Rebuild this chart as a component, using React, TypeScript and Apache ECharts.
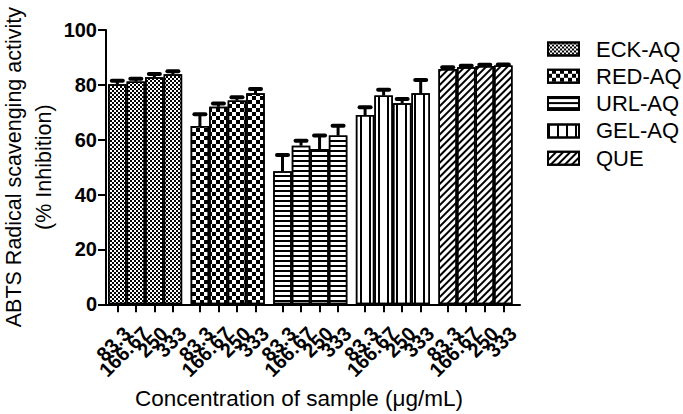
import React, { useEffect, useRef } from "react";
import * as echarts from "echarts";

const groups = ["ECK-AQ", "RED-AQ", "URL-AQ", "GEL-AQ", "QUE"];
const concentrations = ["83.3", "166.67", "250", "333"];
const eckValues = [80.2, 81.2, 82.8, 83.9];
const eckErrors = [1.3, 1.0, 1.2, 1.1];
const redValues = [65.0, 72.0, 74.3, 76.9];
const redErrors = [4.3, 1.2, 1.2, 1.6];
const urlValues = [48.5, 57.8, 56.6, 61.5];
const urlErrors = [5.9, 1.8, 4.9, 3.6];
const gelValues = [69.0, 76.1, 73.3, 76.9];
const gelErrors = [2.8, 2.1, 1.5, 4.9];
const queValues = [85.8, 86.4, 86.9, 87.1];
const queErrors = [0.6, 0.6, 0.4, 0.3];
const yMin = 0;
const yMax = 100;
const yInterval = 20;

const groupValues = [eckValues, redValues, urlValues, gelValues, queValues];
const groupErrors = [eckErrors, redErrors, urlErrors, gelErrors, queErrors];

// layout of the bar slots along the x axis (in bar-width units)
const FIRST_CENTER = 0.61;
const GROUP_STEP = 4.457;
const X_MAX = 22.34;
const slot = (g: number, i: number) => FIRST_CENTER + g * GROUP_STEP + i;

const FONT = "'Liberation Sans', Arial, Helvetica, sans-serif";

const decals: any[] = [
  { symbol: "rect", symbolSize: 1, color: "#000", dashArrayX: [[2, 2], [0, 2, 2, 0]], dashArrayY: [2, 0] },
  { symbol: "rect", symbolSize: 1, color: "#000", dashArrayX: [[4, 4], [0, 4, 4, 0]], dashArrayY: [4, 0] },
  { symbol: "rect", symbolSize: 1, color: "#000", dashArrayX: [1, 0], dashArrayY: [2, 3] },
  { symbol: "rect", symbolSize: 1, color: "#000", dashArrayX: [2, 7], dashArrayY: [1, 0] },
  { symbol: "rect", symbolSize: 1, color: "#000", dashArrayX: [1, 0], dashArrayY: [2, 2.5], rotation: -Math.PI / 4 },
];

export default function App() {
  const ref = useRef<HTMLDivElement>(null);
  useEffect(() => {
    document.body.style.margin = "0";
    const chart = echarts.init(ref.current!, undefined, { renderer: "svg" });
    const tickVals: number[] = [];
    const tickLabels: string[] = [];
    groups.forEach((_, g) =>
      concentrations.forEach((c, i) => {
        tickVals.push(slot(g, i));
        tickLabels.push(c);
      })
    );
    // the axis ends carry empty, hidden entries so that every real label is kept
    const axisVals = [0, ...tickVals, X_MAX];
    const labelFor = (v: number) => {
      const k = tickVals.findIndex((t) => Math.abs(t - v) < 1e-6);
      return k >= 0 ? tickLabels[k] : "";
    };
    const barSeries = groups.map((name, g) => ({
      name,
      type: "bar",
      barWidth: 18.5,
      barGap: "-100%",
      data: groupValues[g].map((v, i) => [slot(g, i), v]),
      itemStyle: { color: "#fff", borderColor: "#000", borderWidth: 1.5, decal: decals[g] },
      z: 2,
    }));
    const errData: number[][] = [];
    groups.forEach((_, g) =>
      groupValues[g].forEach((v, i) => errData.push([slot(g, i), v, groupErrors[g][i]]))
    );
    const errSeries = {
      type: "custom",
      z: 5,
      data: errData,
      encode: { x: 0, y: 1 },
      renderItem: (params: any, api: any) => {
        const x = api.value(0);
        const y = api.value(1);
        const e = api.value(2);
        const base = api.coord([x, y]);
        const top = api.coord([x, y + e]);
        return {
          type: "group",
          children: [
            { type: "line", shape: { x1: base[0], y1: base[1], x2: top[0], y2: top[1] }, style: { stroke: "#000", lineWidth: 3 } },
            { type: "line", shape: { x1: top[0] - 5.5, y1: top[1], x2: top[0] + 5.5, y2: top[1] }, style: { stroke: "#000", lineWidth: 4, lineCap: "round" } },
          ],
        };
      },
    };
    chart.setOption({
      animation: false,
      backgroundColor: "#fff",
      grid: { left: 106, top: 30, width: 414, height: 274.3, containLabel: false, outerBoundsMode: "none" },
      legend: {
        data: groups,
        orient: "vertical",
        left: 547,
        top: 38,
        padding: 0,
        itemWidth: 31,
        itemHeight: 13,
        itemGap: 5.3,
        icon: "rect",
        textStyle: { fontFamily: FONT, fontSize: 22, lineHeight: 22, color: "#000", padding: [0, 0, 0, 12] },
      },
      xAxis: {
        type: "value",
        min: 0,
        max: X_MAX,
        splitLine: { show: false },
        axisLine: { show: true, onZero: false, lineStyle: { color: "#000", width: 2 } },
        axisTick: { show: true, customValues: axisVals, length: 8, lineStyle: { color: "#000", width: 2 } },
        axisLabel: {
          customValues: axisVals,
          formatter: (v: number) => labelFor(v),
          rotate: 45,
          margin: 16,
          hideOverlap: false,
          showMinLabel: false,
          showMaxLabel: false,
          verticalAlign: "top",
          lineHeight: 20,
          padding: [4, 0, 0, 0],
          fontFamily: FONT,
          fontSize: 20,
          fontWeight: "bold",
          color: "#000",
        },
        name: "Concentration of sample (\u03bcg/mL)",
        nameLocation: "middle",
        nameMoveOverlap: false,
        nameGap: 83,
        nameTextStyle: { fontFamily: FONT, fontSize: 22.5, color: "#000", padding: [0, 28, 0, 0] },
      },
      yAxis: {
        type: "value",
        min: yMin,
        max: yMax,
        interval: yInterval,
        splitLine: { show: false },
        axisLine: { show: true, lineStyle: { color: "#000", width: 2 } },
        axisTick: { show: true, length: 8, lineStyle: { color: "#000", width: 2 } },
        axisLabel: { margin: 9, fontFamily: FONT, fontSize: 20, fontWeight: "bold", color: "#000" },
        name: "ABTS Radical scavenging activity\n(% Inhibition)",
        nameLocation: "middle",
        nameMoveOverlap: false,
        nameGap: 47,
        nameRotate: 90,
        nameTextStyle: { fontFamily: FONT, fontSize: 21.5, color: "#000", lineHeight: 30 },
      },
      series: [...barSeries, errSeries],
    });
    return () => chart.dispose();
  }, []);
  return <div ref={ref} style={{ position: "absolute", left: 0, top: 0, width: 683, height: 414 }} />;
}
